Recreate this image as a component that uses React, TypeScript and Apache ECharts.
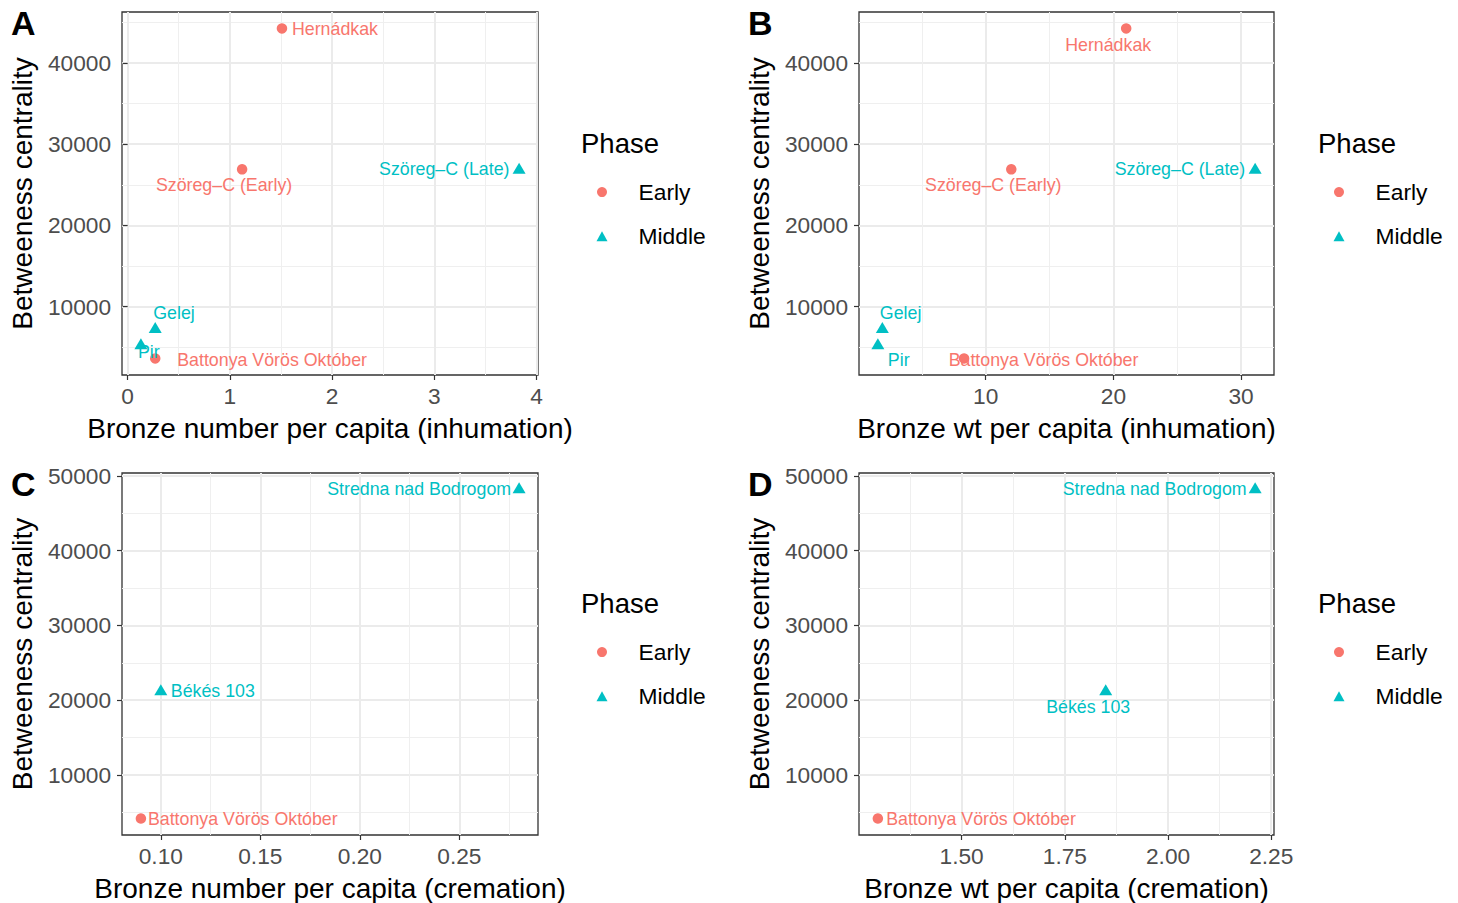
import React, { useEffect, useRef } from "react";
import * as echarts from "echarts";

// ---- Inhumation data (panels A, B) ----
const inhumSites = ["Hernádkak", "Szöreg–C (Early)", "Battonya Vörös Október", "Szöreg–C (Late)", "Gelej", "Pir"];
const inhumPhase = ["Early", "Early", "Early", "Middle", "Middle", "Middle"];
const inhumCentrality = [44250, 26900, 3600, 26800, 7200, 5200];
const inhumBronzeNumber = [1.51, 1.12, 0.27, 3.83, 0.27, 0.13];
const inhumBronzeWt = [21.0, 12.0, 8.3, 31.1, 1.9, 1.55];

// ---- Cremation data (panels C, D) ----
const cremSites = ["Battonya Vörös Október", "Békés 103", "Stredna nad Bodrogom"];
const cremPhase = ["Early", "Middle", "Middle"];
const cremCentrality = [4150, 21150, 48200];
const cremBronzeNumber = [0.09, 0.1, 0.28];
const cremBronzeWt = [1.297, 1.849, 2.211];

// ---- Tick labels ----
const phases = ["Early", "Middle"];
const xTicksA = [0, 1, 2, 3, 4];
const xTicksB = [10, 20, 30];
const xTicksC = [0.1, 0.15, 0.2, 0.25];
const xTicksD = [1.5, 1.75, 2.0, 2.25];
const yTicksInhum = [10000, 20000, 30000, 40000];
const yTicksCrem = [10000, 20000, 30000, 40000, 50000];

const COLORS: Record<string, string> = { Early: "#F8766D", Middle: "#00BFC4" };
const FONT = "'Liberation Sans', Arial, Helvetica, sans-serif";

// label anchors: [dx, dy, align] relative to the drawn symbol centre
const anchorsA: Record<string, [number, number, string]> = {
  "Hernádkak": [10, 0, "left"],
  "Szöreg–C (Early)": [-18, 15.5, "center"],
  "Battonya Vörös Október": [22, 1, "left"],
  "Szöreg–C (Late)": [-9.6, 1, "right"],
  "Gelej": [-2, -14, "left"],
  "Pir": [-3, 8.5, "left"],
};
const anchorsB: Record<string, [number, number, string]> = {
  "Hernádkak": [-18, 16, "center"],
  "Szöreg–C (Early)": [-18, 15.5, "center"],
  "Battonya Vörös Október": [-15.4, 1, "left"],
  "Szöreg–C (Late)": [-10, 1, "right"],
  "Gelej": [-2.5, -14, "left"],
  "Pir": [10, 16, "left"],
};
const anchorsC: Record<string, [number, number, string]> = {
  "Stredna nad Bodrogom": [-8, 1.3, "right"],
  "Békés 103": [10, 1.5, "left"],
  "Battonya Vörös Október": [7, 0, "left"],
};
const anchorsD: Record<string, [number, number, string]> = {
  "Stredna nad Bodrogom": [-8.5, 1.3, "right"],
  "Békés 103": [-17.5, 17.7, "center"],
  "Battonya Vörös Október": [8.3, 0, "left"],
};

function expand(vals: number[], mult = 0.05): [number, number] {
  const lo = Math.min(...vals);
  const hi = Math.max(...vals);
  const pad = (hi - lo) * mult;
  return [lo - pad, hi + pad];
}

const int = (v: number) => String(Math.round(v));
const two = (v: number) => v.toFixed(2);

const panels = [
  {
    letter: "A", grid: { left: 122, top: 12, width: 416, height: 363 },
    xs: inhumBronzeNumber, ys: inhumCentrality, sites: inhumSites, ph: inhumPhase,
    xTicks: xTicksA, xStep: 1, xFmt: int, yTicks: yTicksInhum,
    xName: "Bronze number per capita (inhumation)", anchors: anchorsA,
    legend: { left: 596.5, top: 180.6 }, title: { x: 581, y: 143 }, letterPos: [11, 23],
  },
  {
    letter: "B", grid: { left: 859, top: 12, width: 415, height: 363 },
    xs: inhumBronzeWt, ys: inhumCentrality, sites: inhumSites, ph: inhumPhase,
    xTicks: xTicksB, xStep: 10, xFmt: int, yTicks: yTicksInhum,
    xName: "Bronze wt per capita (inhumation)", anchors: anchorsB,
    legend: { left: 1333.5, top: 180.6 }, title: { x: 1318, y: 143 }, letterPos: [748, 23],
  },
  {
    letter: "C", grid: { left: 122, top: 473, width: 416, height: 362 },
    xs: cremBronzeNumber, ys: cremCentrality, sites: cremSites, ph: cremPhase,
    xTicks: xTicksC, xStep: 0.05, xFmt: two, yTicks: yTicksCrem,
    xName: "Bronze number per capita (cremation)", anchors: anchorsC,
    legend: { left: 596.5, top: 640.6 }, title: { x: 581, y: 603 }, letterPos: [11, 484],
  },
  {
    letter: "D", grid: { left: 859, top: 473, width: 415, height: 362 },
    xs: cremBronzeWt, ys: cremCentrality, sites: cremSites, ph: cremPhase,
    xTicks: xTicksD, xStep: 0.25, xFmt: two, yTicks: yTicksCrem,
    xName: "Bronze wt per capita (cremation)", anchors: anchorsD,
    legend: { left: 1333.5, top: 640.6 }, title: { x: 1318, y: 603 }, letterPos: [748, 484],
  },
];

function buildOption() {
  const grid: any[] = [];
  const xAxis: any[] = [];
  const yAxis: any[] = [];
  const series: any[] = [];
  const legend: any[] = [];
  const graphic: any[] = [];

  panels.forEach((p, i) => {
    grid.push({
      ...p.grid,
      show: true,
      borderColor: "#333333",
      borderWidth: 1.3,
      backgroundColor: "transparent",
      containLabel: false,
    });
    const [xmin, xmax] = expand(p.xs);
    const [ymin, ymax] = expand(p.ys);
    const tickCommon = { show: true, length: 5, lineStyle: { color: "#333333", width: 1.2 } };
    xAxis.push({
      type: "value", gridIndex: i, min: xmin, max: xmax,
      minInterval: p.xStep, maxInterval: p.xStep, splitNumber: 4,
      axisLine: { show: false },
      axisTick: { ...tickCommon, customValues: p.xTicks },
      axisLabel: {
        customValues: p.xTicks, showMinLabel: true, showMaxLabel: true,
        color: "#4D4D4D", fontSize: 22.7, margin: 9, fontFamily: FONT,
        formatter: (v: number) => p.xFmt(v),
      },
      splitLine: { show: true, lineStyle: { color: "#EBEBEB", width: 2 } },
      minorTick: { show: false, splitNumber: 2 },
      minorSplitLine: { show: true, lineStyle: { color: "#EFEFEF", width: 1 } },
      name: p.xName, nameLocation: "middle", nameGap: 39,
      nameTextStyle: { color: "#000000", fontSize: 28, fontFamily: FONT },
    });
    yAxis.push({
      type: "value", gridIndex: i, min: ymin, max: ymax,
      minInterval: 10000, maxInterval: 10000, splitNumber: 5,
      axisLine: { show: false },
      axisTick: { ...tickCommon, customValues: p.yTicks },
      axisLabel: {
        customValues: p.yTicks, showMinLabel: true, showMaxLabel: true,
        color: "#4D4D4D", fontSize: 22.7, margin: 11, fontFamily: FONT,
        formatter: (v: number) => int(v),
      },
      splitLine: { show: true, lineStyle: { color: "#EBEBEB", width: 2 } },
      minorTick: { show: false, splitNumber: 2 },
      minorSplitLine: { show: true, lineStyle: { color: "#EFEFEF", width: 1 } },
      name: "Betweeness centrality", nameLocation: "middle", nameGap: 86,
      nameTextStyle: { color: "#000000", fontSize: 28, fontFamily: FONT },
    });

    phases.forEach((ph) => {
      const isEarly = ph === "Early";
      const data = p.sites
        .map((s, k) => ({ s, k }))
        .filter((d) => p.ph[d.k] === ph)
        .map((d) => {
          const a = p.anchors[d.s];
          return {
            name: d.s,
            value: [p.xs[d.k], p.ys[d.k]],
            label: {
              show: true, position: "inside", offset: [a[0], a[1]], align: a[2],
              verticalAlign: "middle", formatter: "{b}", color: COLORS[ph],
              fontSize: 17.8, fontFamily: FONT, textBorderWidth: 0,
            },
          };
        });
      series.push({
        type: "scatter", name: ph, xAxisIndex: i, yAxisIndex: i,
        symbol: isEarly ? "circle" : "triangle",
        symbolSize: isEarly ? 10.5 : [13, 11],
        symbolOffset: isEarly ? [0, 0] : [0, -1.8],
        itemStyle: { color: COLORS[ph], opacity: 1 },
        emphasis: { disabled: true },
        data,
        z: 3,
      });
    });

    legend.push({
      orient: "vertical", left: p.legend.left, top: p.legend.top, padding: 0,
      itemGap: 21.2, itemWidth: 11, itemHeight: 10, selectedMode: false,
      data: [{ name: "Early", icon: "circle" }, { name: "Middle", icon: "triangle" }],
      textStyle: { fontSize: 22.8, color: "#000000", fontFamily: FONT, padding: [0, 0, 0, 26] },
    });

    graphic.push({
      type: "text", x: p.title.x, y: p.title.y,
      style: { text: "Phase", fontSize: 27.5, fontFamily: FONT, fill: "#000000", verticalAlign: "middle", align: "left" },
    });
    graphic.push({
      type: "text", x: p.letterPos[0], y: p.letterPos[1],
      style: { text: p.letter, fontSize: 34, fontWeight: "bold", fontFamily: FONT, fill: "#000000", verticalAlign: "middle", align: "left" },
    });
  });

  return {
    animation: false,
    backgroundColor: "#ffffff",
    textStyle: { fontFamily: FONT },
    grid, xAxis, yAxis, series, legend, graphic,
  };
}

export default function App() {
  const ref = useRef<HTMLDivElement>(null);
  useEffect(() => {
    if (!ref.current) return;
    const chart = echarts.init(ref.current, null, { renderer: "svg" });
    chart.setOption(buildOption() as any);
    return () => chart.dispose();
  }, []);
  return (
    <div
      ref={ref}
      style={{ position: "absolute", left: 0, top: 0, width: 1458, height: 903 }}
    />
  );
}
